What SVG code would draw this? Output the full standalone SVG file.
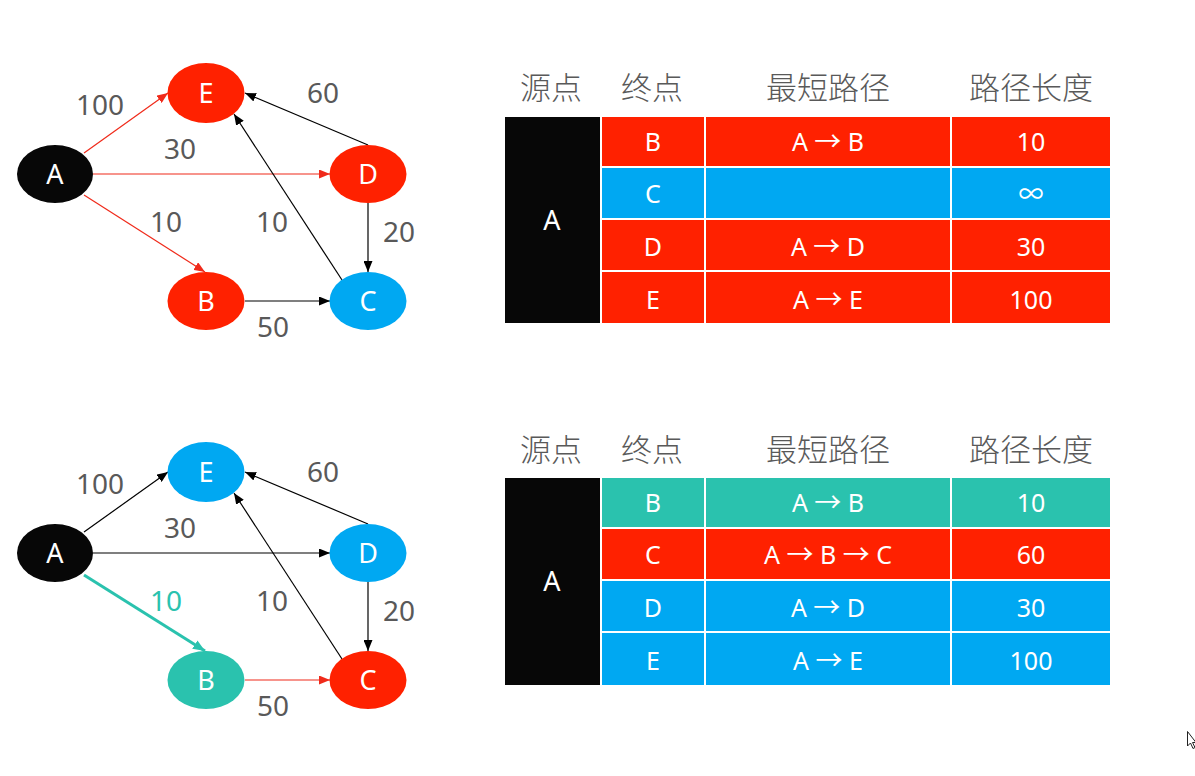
<svg xmlns="http://www.w3.org/2000/svg" width="1195" height="776" viewBox="0 0 1195 776">
<style>
.lbl{font-family:"Noto Sans","Noto Sans CJK SC",sans-serif;font-size:28px;fill:#595959;text-anchor:middle}
.nt{font-family:"Noto Sans","Noto Sans CJK SC",sans-serif;font-size:27px;fill:#fff;text-anchor:middle}
.hd{font-family:"Noto Sans CJK SC","Noto Sans",sans-serif;font-size:31px;fill:#595959;text-anchor:middle;font-weight:300}
.ct{font-family:"Noto Sans","Noto Sans CJK SC",sans-serif;font-size:25px;fill:#fff;text-anchor:middle}
.arw{font-family:"Noto Sans CJK SC",sans-serif;font-size:27px}
.red{fill:#FF2100}.blue{fill:#00A8F2}.teal{fill:#2AC2AE}.blk{fill:#070707}
.cell{stroke:#fff;stroke-width:2}
.e{fill:none;stroke-width:1.2}
.ek{stroke:#000}.er{stroke:#F02A1A}.et{stroke:#2AC2AE;stroke-width:3}
</style>
<defs>
<marker id="ak" markerUnits="userSpaceOnUse" markerWidth="11" markerHeight="9" refX="11" refY="4.5" orient="auto"><path d="M0,0 L11,4.5 L0,9 z" fill="#000"/></marker>
<marker id="ar" markerUnits="userSpaceOnUse" markerWidth="11" markerHeight="9" refX="11" refY="4.5" orient="auto"><path d="M0,0 L11,4.5 L0,9 z" fill="#F02A1A"/></marker>
<marker id="at" markerUnits="userSpaceOnUse" markerWidth="12" markerHeight="10" refX="12" refY="5" orient="auto"><path d="M0,0 L12,5 L0,10 z" fill="#2AC2AE"/></marker>
</defs>

<!-- top graph -->
<g id="edges-top">
<line class="e er" x1="84" y1="153" x2="168" y2="93" marker-end="url(#ar)"/>
<line class="e er" x1="93" y1="174" x2="330" y2="174" marker-end="url(#ar)"/>
<line class="e er" x1="84" y1="195" x2="205" y2="272" marker-end="url(#ar)"/>
<line class="e ek" x1="368" y1="145" x2="245" y2="93" marker-end="url(#ak)"/>
<line class="e ek" x1="342" y1="280" x2="234" y2="114" marker-end="url(#ak)"/>
<line class="e ek" x1="368" y1="203" x2="368" y2="272" marker-end="url(#ak)"/>
<line class="e ek" x1="245" y1="301" x2="330" y2="301" marker-end="url(#ak)"/>
<text class="lbl" x="100" y="115">100</text>
<text class="lbl" x="323" y="103">60</text>
<text class="lbl" x="180" y="159">30</text>
<text class="lbl" x="166" y="232">10</text>
<text class="lbl" x="272" y="232">10</text>
<text class="lbl" x="399" y="242">20</text>
<text class="lbl" x="273" y="337">50</text>
</g>
<g id="t-A"><ellipse class="blk" cx="55" cy="174" rx="38" ry="29"/><text class="nt" x="55" y="183.5">A</text></g>
<g id="t-E"><ellipse class="red" cx="206" cy="93" rx="38.5" ry="30"/><text class="nt" x="206" y="102.5">E</text></g>
<g id="t-D"><ellipse class="red" cx="368" cy="174" rx="38.5" ry="29"/><text class="nt" x="368" y="183.5">D</text></g>
<g id="t-B"><ellipse class="red" cx="206" cy="301" rx="38.5" ry="29"/><text class="nt" x="206" y="310.5">B</text></g>
<g id="t-C"><ellipse class="blue" cx="368" cy="301" rx="38.5" ry="29"/><text class="nt" x="368" y="310.5">C</text></g>

<!-- bottom graph -->
<g id="edges-bottom">
<line class="e ek" x1="84" y1="532" x2="168" y2="472" marker-end="url(#ak)"/>
<line class="e ek" x1="93" y1="553" x2="330" y2="553" marker-end="url(#ak)"/>
<line class="e et" x1="84" y1="575" x2="205" y2="651" marker-end="url(#at)"/>
<line class="e ek" x1="368" y1="524" x2="245" y2="472" marker-end="url(#ak)"/>
<line class="e ek" x1="342" y1="659" x2="234" y2="493" marker-end="url(#ak)"/>
<line class="e ek" x1="368" y1="582" x2="368" y2="651" marker-end="url(#ak)"/>
<line class="e er" x1="245" y1="680" x2="330" y2="680" marker-end="url(#ar)"/>
<text class="lbl" x="100" y="494">100</text>
<text class="lbl" x="323" y="482">60</text>
<text class="lbl" x="180" y="538">30</text>
<text class="lbl" x="166" y="611" style="fill:#2AC2AE">10</text>
<text class="lbl" x="272" y="611">10</text>
<text class="lbl" x="399" y="621">20</text>
<text class="lbl" x="273" y="716">50</text>
</g>
<g id="b-A"><ellipse class="blk" cx="55" cy="553" rx="38" ry="29"/><text class="nt" x="55" y="562.5">A</text></g>
<g id="b-E"><ellipse class="blue" cx="206" cy="472" rx="38.5" ry="30"/><text class="nt" x="206" y="481.5">E</text></g>
<g id="b-D"><ellipse class="blue" cx="368" cy="553" rx="38.5" ry="29"/><text class="nt" x="368" y="562.5">D</text></g>
<g id="b-B"><ellipse class="teal" cx="206" cy="680" rx="38.5" ry="29"/><text class="nt" x="206" y="689.5">B</text></g>
<g id="b-C"><ellipse class="red" cx="368" cy="680" rx="38.5" ry="29"/><text class="nt" x="368" y="689.5">C</text></g>

<!-- top table -->
<g id="table-top">
<text class="hd" x="551" y="99">源点</text>
<text class="hd" x="652" y="99">终点</text>
<text class="hd" x="828" y="99">最短路径</text>
<text class="hd" x="1031" y="99">路径长度</text>
<rect class="blk" x="505" y="117" width="95" height="206"/>
<text class="nt" x="552" y="230">A</text>
<rect class="red cell" x="601" y="116" width="104" height="51"/>
<rect class="red cell" x="705" y="116" width="246" height="51"/>
<rect class="red cell" x="951" y="116" width="160" height="51"/>
<rect class="blue cell" x="601" y="167" width="104" height="52"/>
<rect class="blue cell" x="705" y="167" width="246" height="52"/>
<rect class="blue cell" x="951" y="167" width="160" height="52"/>
<rect class="red cell" x="601" y="219" width="104" height="52"/>
<rect class="red cell" x="705" y="219" width="246" height="52"/>
<rect class="red cell" x="951" y="219" width="160" height="52"/>
<rect class="red cell" x="601" y="271" width="104" height="53"/>
<rect class="red cell" x="705" y="271" width="246" height="53"/>
<rect class="red cell" x="951" y="271" width="160" height="53"/>
<text class="ct" x="653" y="151">B</text><text class="ct" x="828" y="151">A <tspan class="arw">→</tspan> B</text><text class="ct" x="1031" y="151">10</text>
<text class="ct" x="653" y="203">C</text><text class="ct" x="1031" y="203">∞</text>
<text class="ct" x="653" y="256">D</text><text class="ct" x="828" y="256">A <tspan class="arw">→</tspan> D</text><text class="ct" x="1031" y="256">30</text>
<text class="ct" x="653" y="309">E</text><text class="ct" x="828" y="309">A <tspan class="arw">→</tspan> E</text><text class="ct" x="1031" y="309">100</text>
</g>

<!-- bottom table -->
<g id="table-bottom">
<text class="hd" x="551" y="461">源点</text>
<text class="hd" x="652" y="461">终点</text>
<text class="hd" x="828" y="461">最短路径</text>
<text class="hd" x="1031" y="461">路径长度</text>
<rect class="blk" x="505" y="478" width="95" height="207"/>
<text class="nt" x="552" y="591">A</text>
<rect class="teal cell" x="601" y="477" width="104" height="51"/>
<rect class="teal cell" x="705" y="477" width="246" height="51"/>
<rect class="teal cell" x="951" y="477" width="160" height="51"/>
<rect class="red cell" x="601" y="528" width="104" height="52"/>
<rect class="red cell" x="705" y="528" width="246" height="52"/>
<rect class="red cell" x="951" y="528" width="160" height="52"/>
<rect class="blue cell" x="601" y="580" width="104" height="52"/>
<rect class="blue cell" x="705" y="580" width="246" height="52"/>
<rect class="blue cell" x="951" y="580" width="160" height="52"/>
<rect class="blue cell" x="601" y="632" width="104" height="54"/>
<rect class="blue cell" x="705" y="632" width="246" height="54"/>
<rect class="blue cell" x="951" y="632" width="160" height="54"/>
<text class="ct" x="653" y="512">B</text><text class="ct" x="828" y="512">A <tspan class="arw">→</tspan> B</text><text class="ct" x="1031" y="512">10</text>
<text class="ct" x="653" y="564">C</text><text class="ct" x="828" y="564">A <tspan class="arw">→</tspan> B <tspan class="arw">→</tspan> C</text><text class="ct" x="1031" y="564">60</text>
<text class="ct" x="653" y="617">D</text><text class="ct" x="828" y="617">A <tspan class="arw">→</tspan> D</text><text class="ct" x="1031" y="617">30</text>
<text class="ct" x="653" y="670">E</text><text class="ct" x="828" y="670">A <tspan class="arw">→</tspan> E</text><text class="ct" x="1031" y="670">100</text>
</g>

<!-- mouse pointer -->
<path d="M1187.5,731.5 L1187.5,746 L1190.5,743 L1193,748.5 L1195,747.5 L1192.5,742.5 L1196,742.5 z" fill="#fff" stroke="#222" stroke-width="1"/>
</svg>
